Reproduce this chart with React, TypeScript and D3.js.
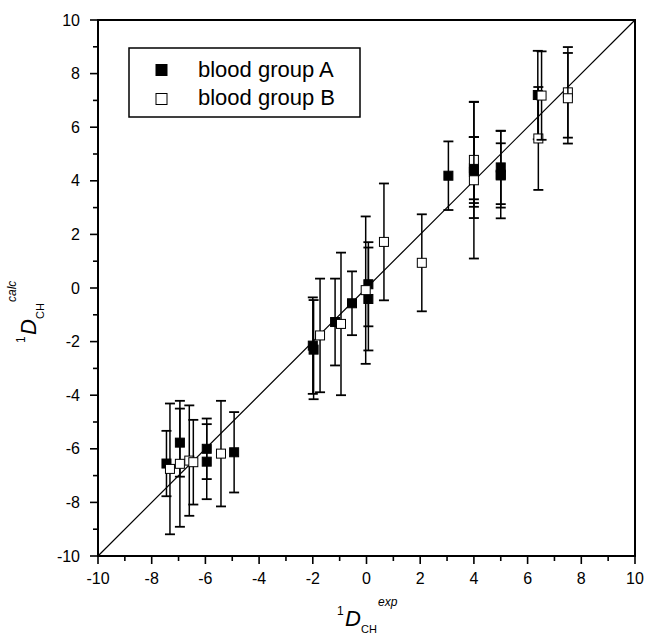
import React from "react";
import * as d3 from "d3";

// Blood group A: measured x, calculated y, error (±)
const groupAX = [-7.45, -6.95, -5.95, -5.95, -4.93, -2.0, -1.97, -1.17, -0.54, 0.07, 0.07, 3.05, 4.0, 4.0, 4.0, 5.0, 5.0, 5.0, 6.38];
const groupAY = [-6.55, -5.77, -6.0, -6.48, -6.13, -2.15, -2.3, -1.27, -0.57, 0.14, -0.41, 4.19, 4.4, 4.47, 4.33, 4.5, 4.2, 4.23, 7.2];
const groupAErr = [1.22, 1.27, 1.13, 1.4, 1.5, 1.8, 1.85, 1.62, 1.19, 1.57, 1.92, 1.28, 1.23, 1.16, 1.3, 1.37, 1.2, 1.63, 1.65];

// Blood group B
const groupBX = [-7.32, -6.95, -6.6, -6.45, -5.42, -1.73, -0.95, -0.03, 0.65, 2.06, 4.0, 4.0, 6.4, 6.52, 7.5, 7.5];
const groupBY = [-6.75, -6.56, -6.44, -6.5, -6.18, -1.77, -1.34, -0.08, 1.72, 0.94, 4.78, 4.02, 5.58, 7.18, 7.3, 7.08];
const groupBErr = [2.44, 2.35, 2.06, 1.58, 1.97, 2.12, 2.66, 2.75, 2.18, 1.81, 2.17, 2.92, 1.92, 1.65, 1.69, 1.69];

const majorTicks = [-10, -8, -6, -4, -2, 0, 2, 4, 6, 8, 10];
const minorTicks = [-9, -7, -5, -3, -1, 1, 3, 5, 7, 9];
const legendLabels = ["blood group A", "blood group B"];

const W = 647;
const H = 636;
const plot = { left: 98, right: 635, top: 20, bottom: 556 };
const FONT = "'Liberation Sans', Arial, Helvetica, sans-serif";

export default function App() {
  const x = d3.scaleLinear().domain([-10, 10]).range([plot.left, plot.right]);
  const y = d3.scaleLinear().domain([-10, 10]).range([plot.bottom, plot.top]);

  const sq = 9;
  const cap = 5;

  const renderPoint = (
    px: number,
    py: number,
    e: number,
    filled: boolean,
    key: string
  ) => {
    const cx = x(px);
    const cy = y(py);
    const yTop = y(py + e);
    const yBot = y(py - e);
    return (
      <g key={key}>
        <line x1={cx} x2={cx} y1={yTop} y2={yBot} stroke="#000" strokeWidth={1.5} />
        <line x1={cx - cap} x2={cx + cap} y1={yTop} y2={yTop} stroke="#000" strokeWidth={1.8} />
        <line x1={cx - cap} x2={cx + cap} y1={yBot} y2={yBot} stroke="#000" strokeWidth={1.8} />
        <rect
          x={cx - sq / 2}
          y={cy - sq / 2}
          width={sq}
          height={sq}
          fill={filled ? "#000" : "#fff"}
          stroke="#000"
          strokeWidth={1}
        />
      </g>
    );
  };

  return (
    <div style={{ position: "absolute", left: 0, top: 0 }}>
      <svg width={W} height={H} style={{ display: "block", background: "#fff" }} fontFamily={FONT}>
        {/* identity line */}
        <line x1={x(-10)} y1={y(-10)} x2={x(10)} y2={y(10)} stroke="#000" strokeWidth={1.2} />

        {groupAX.map((v, i) => renderPoint(v, groupAY[i], groupAErr[i], true, `a${i}`))}
        {groupBX.map((v, i) => renderPoint(v, groupBY[i], groupBErr[i], false, `b${i}`))}

        {/* frame */}
        <rect
          x={plot.left}
          y={plot.top}
          width={plot.right - plot.left}
          height={plot.bottom - plot.top}
          fill="none"
          stroke="#000"
          strokeWidth={2}
        />

        {/* x axis ticks */}
        {majorTicks.map((t) => (
          <g key={`xt${t}`}>
            <line x1={x(t)} x2={x(t)} y1={plot.bottom} y2={plot.bottom + 8} stroke="#000" strokeWidth={1.6} />
            <text x={x(t)} y={plot.bottom + 28} fontSize={16} textAnchor="middle">
              {t}
            </text>
          </g>
        ))}
        {minorTicks.map((t) => (
          <line key={`xm${t}`} x1={x(t)} x2={x(t)} y1={plot.bottom} y2={plot.bottom + 5} stroke="#000" strokeWidth={1.6} />
        ))}

        {/* y axis ticks */}
        {majorTicks.map((t) => (
          <g key={`yt${t}`}>
            <line x1={plot.left - 8} x2={plot.left} y1={y(t)} y2={y(t)} stroke="#000" strokeWidth={1.6} />
            <text x={plot.left - 18} y={y(t)} dy="0.35em" fontSize={16} textAnchor="end">
              {t}
            </text>
          </g>
        ))}
        {minorTicks.map((t) => (
          <line key={`ym${t}`} x1={plot.left - 5} x2={plot.left} y1={y(t)} y2={y(t)} stroke="#000" strokeWidth={1.6} />
        ))}

        {/* legend */}
        <rect x={129} y={48} width={231} height={69} fill="#fff" stroke="#000" strokeWidth={1.5} />
        <rect x={156} y={64.5} width={11} height={11} fill="#000" stroke="#000" strokeWidth={1} />
        <rect x={156} y={93.5} width={11} height={11} fill="#fff" stroke="#000" strokeWidth={1} />
        <text x={198} y={76.5} fontSize={22}>{legendLabels[0]}</text>
        <text x={198} y={104.5} fontSize={22}>{legendLabels[1]}</text>

        {/* x axis title */}
        <text y={626} fontSize={22}>
          <tspan x={337} dy={-11} fontSize={12}>1</tspan>
          <tspan x={345} dy={11} fontStyle="italic">D</tspan>
          <tspan x={361} dy={7} fontSize={11}>CH</tspan>
          <tspan x={378} dy={-27} fontSize={12} fontStyle="italic">exp</tspan>
        </text>

        {/* y axis title */}
        <g transform="translate(36,343) rotate(-90)">
          <text y={0} fontSize={22}>
            <tspan x={0} dy={-11} fontSize={12}>1</tspan>
            <tspan x={8} dy={11} fontStyle="italic">D</tspan>
            <tspan x={24} dy={8} fontSize={11}>CH</tspan>
            <tspan x={41} dy={-28} fontSize={12} fontStyle="italic">calc</tspan>
          </text>
        </g>
      </svg>
    </div>
  );
}
